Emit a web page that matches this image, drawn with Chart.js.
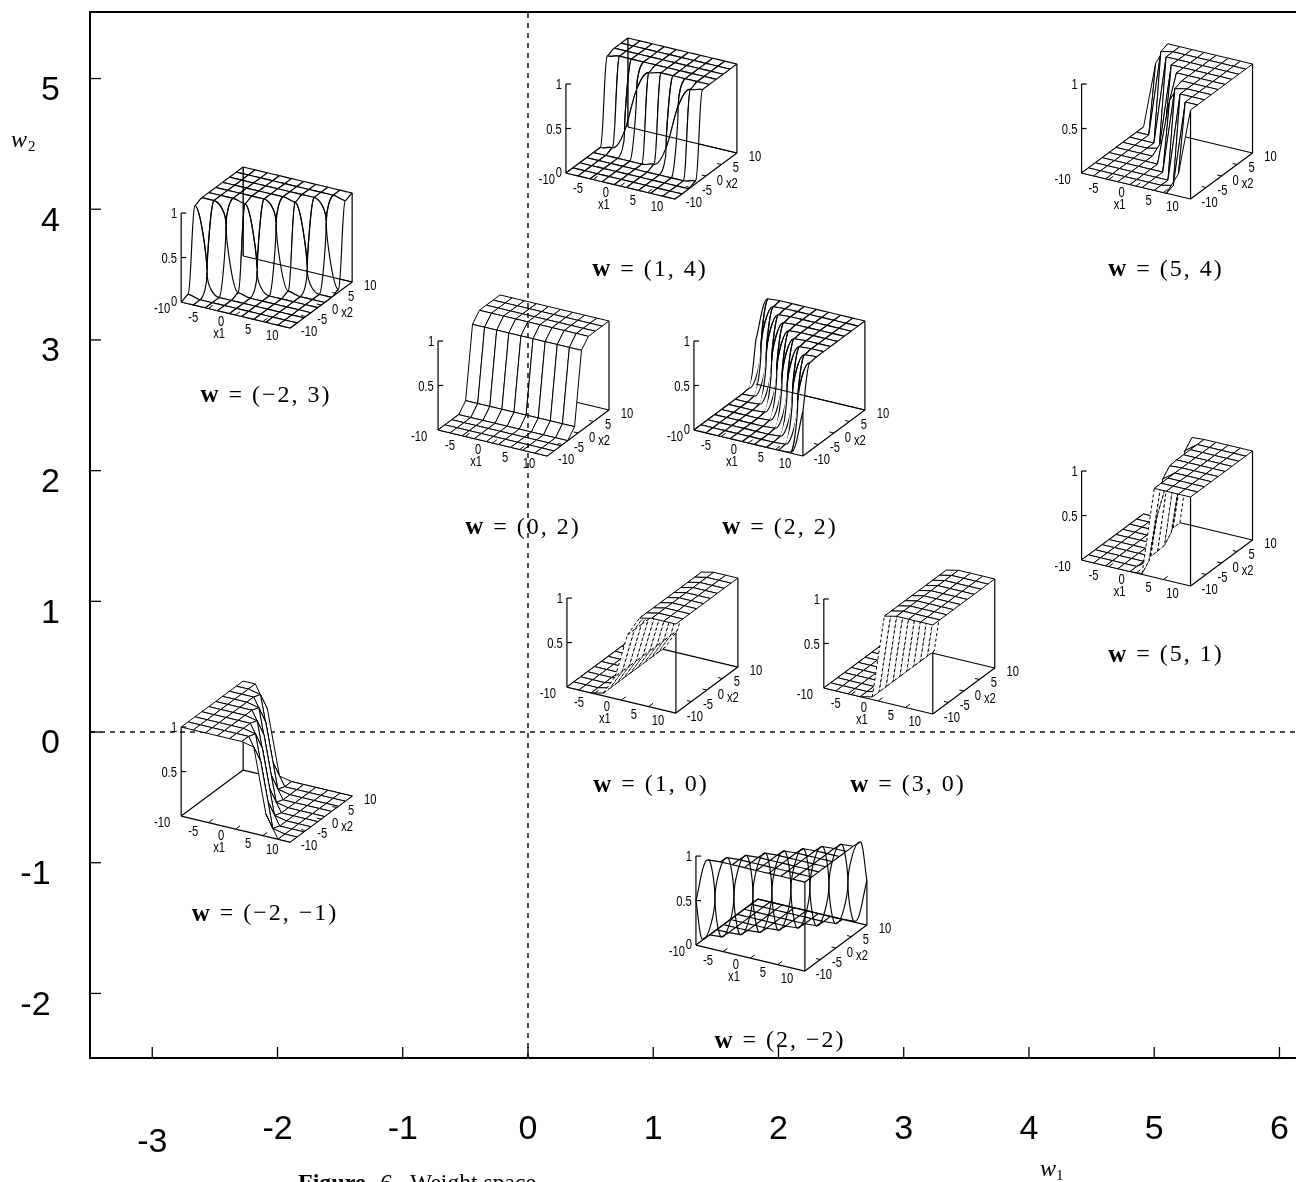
<!DOCTYPE html>
<html>
<head>
<meta charset="utf-8">
<title>Weight space</title>
<style>
html, body { margin: 0; padding: 0; background: #fff; overflow: hidden; }
canvas { display: block; }
</style>
<script src="https://cdn.jsdelivr.net/npm/chart.js@4"></script>
</head>
<body>
<canvas id="myChart" width="1296" height="1182"></canvas>
<script>
// main axes
const xTickValues = [-3, -2, -1, 0, 1, 2, 3, 4, 5, 6]
const yTickValues = [-2, -1, 0, 1, 2, 3, 4, 5]
const xMin = -3.497, xMax = 6.132
const yMin = -2.494, yMax = 5.509

// weight vectors shown in the figure, one surface plot each
const weights = [[1, 4], [5, 4], [-2, 3], [0, 2], [2, 2], [5, 1], [1, 0], [3, 0], [-2, -1], [2, -2]]

// surface heights, read row by row: x2 = -10 .. 10 (rows), x1 = -10 .. 10 (columns)
const surf_1_4 = [
    [0, 0, 0, 0, 0, 0, 0, 0, 0, 0],
    [0, 0, 0, 0, 0, 0, 0, 0, 0, 0],
    [0, 0, 0, 0, 0, 0, 0, 0, 0, 0],
    [0, 0, 0, 0, 0, 0, 0, 0, 0, .03],
    [0, 0, 0, 0, 0, .03, .25, .75, .97, 1],
    [0, .03, .25, .75, .97, 1, 1, 1, 1, 1],
    [.97, 1, 1, 1, 1, 1, 1, 1, 1, 1],
    [1, 1, 1, 1, 1, 1, 1, 1, 1, 1],
    [1, 1, 1, 1, 1, 1, 1, 1, 1, 1],
    [1, 1, 1, 1, 1, 1, 1, 1, 1, 1]
]
const surf_5_4 = [
    [0, 0, 0, 0, 0, 0, 0, 0, .25, 1],
    [0, 0, 0, 0, 0, 0, 0, .03, 1, 1],
    [0, 0, 0, 0, 0, 0, 0, 1, 1, 1],
    [0, 0, 0, 0, 0, 0, .97, 1, 1, 1],
    [0, 0, 0, 0, 0, .75, 1, 1, 1, 1],
    [0, 0, 0, 0, .25, 1, 1, 1, 1, 1],
    [0, 0, 0, .03, 1, 1, 1, 1, 1, 1],
    [0, 0, 0, 1, 1, 1, 1, 1, 1, 1],
    [0, 0, .97, 1, 1, 1, 1, 1, 1, 1],
    [0, .75, 1, 1, 1, 1, 1, 1, 1, 1]
]
const surf_m2_3 = [
    [0, 0, 0, 0, 0, 0, 0, 0, 0, 0],
    [.03, 0, 0, 0, 0, 0, 0, 0, 0, 0],
    [.97, .25, 0, 0, 0, 0, 0, 0, 0, 0],
    [1, 1, .75, .03, 0, 0, 0, 0, 0, 0],
    [1, 1, 1, .97, .25, 0, 0, 0, 0, 0],
    [1, 1, 1, 1, 1, .75, .03, 0, 0, 0],
    [1, 1, 1, 1, 1, 1, .97, .25, 0, 0],
    [1, 1, 1, 1, 1, 1, 1, 1, .75, .03],
    [1, 1, 1, 1, 1, 1, 1, 1, 1, .97],
    [1, 1, 1, 1, 1, 1, 1, 1, 1, 1]
]
const surf_0_2 = [
    [0, 0, 0, 0, 0, 0, 0, 0, 0, 0],
    [0, 0, 0, 0, 0, 0, 0, 0, 0, 0],
    [0, 0, 0, 0, 0, 0, 0, 0, 0, 0],
    [0, 0, 0, 0, 0, 0, 0, 0, 0, 0],
    [.1, .1, .1, .1, .1, .1, .1, .1, .1, .1],
    [.9, .9, .9, .9, .9, .9, .9, .9, .9, .9],
    [1, 1, 1, 1, 1, 1, 1, 1, 1, 1],
    [1, 1, 1, 1, 1, 1, 1, 1, 1, 1],
    [1, 1, 1, 1, 1, 1, 1, 1, 1, 1],
    [1, 1, 1, 1, 1, 1, 1, 1, 1, 1]
]
const surf_2_2 = [
    [0, 0, 0, 0, 0, 0, 0, 0, .01, .5],
    [0, 0, 0, 0, 0, 0, 0, .01, .5, .99],
    [0, 0, 0, 0, 0, 0, .01, .5, .99, 1],
    [0, 0, 0, 0, 0, .01, .5, .99, 1, 1],
    [0, 0, 0, 0, .01, .5, .99, 1, 1, 1],
    [0, 0, 0, .01, .5, .99, 1, 1, 1, 1],
    [0, 0, .01, .5, .99, 1, 1, 1, 1, 1],
    [0, .01, .5, .99, 1, 1, 1, 1, 1, 1],
    [.01, .5, .99, 1, 1, 1, 1, 1, 1, 1],
    [.5, .99, 1, 1, 1, 1, 1, 1, 1, 1]
]
const surf_5_1 = [
    [0, 0, 0, 0, 0, .01, 1, 1, 1, 1],
    [0, 0, 0, 0, 0, .1, 1, 1, 1, 1],
    [0, 0, 0, 0, 0, .5, 1, 1, 1, 1],
    [0, 0, 0, 0, 0, .9, 1, 1, 1, 1],
    [0, 0, 0, 0, 0, .99, 1, 1, 1, 1],
    [0, 0, 0, 0, .01, 1, 1, 1, 1, 1],
    [0, 0, 0, 0, .1, 1, 1, 1, 1, 1],
    [0, 0, 0, 0, .5, 1, 1, 1, 1, 1],
    [0, 0, 0, 0, .9, 1, 1, 1, 1, 1],
    [0, 0, 0, 0, .99, 1, 1, 1, 1, 1]
]
const row_1_0 = [0, 0, 0, .03, .25, .75, .97, 1, 1, 1]
const surf_1_0 = [row_1_0, row_1_0, row_1_0, row_1_0, row_1_0, row_1_0, row_1_0, row_1_0, row_1_0, row_1_0]
const row_3_0 = [0, 0, 0, 0, .03, .97, 1, 1, 1, 1]
const surf_3_0 = [row_3_0, row_3_0, row_3_0, row_3_0, row_3_0, row_3_0, row_3_0, row_3_0, row_3_0, row_3_0]
const surf_m2_m1 = [
    [1, 1, 1, 1, 1, 1, .97, .25, 0, 0],
    [1, 1, 1, 1, 1, 1, .75, .03, 0, 0],
    [1, 1, 1, 1, 1, .97, .25, 0, 0, 0],
    [1, 1, 1, 1, 1, .75, .03, 0, 0, 0],
    [1, 1, 1, 1, .97, .25, 0, 0, 0, 0],
    [1, 1, 1, 1, .75, .03, 0, 0, 0, 0],
    [1, 1, 1, .97, .25, 0, 0, 0, 0, 0],
    [1, 1, 1, .75, .03, 0, 0, 0, 0, 0],
    [1, 1, .97, .25, 0, 0, 0, 0, 0, 0],
    [1, 1, .75, .03, 0, 0, 0, 0, 0, 0]
]
const surf_2_m2 = [
    [.5, .99, 1, 1, 1, 1, 1, 1, 1, 1],
    [.01, .5, .99, 1, 1, 1, 1, 1, 1, 1],
    [0, .01, .5, .99, 1, 1, 1, 1, 1, 1],
    [0, 0, .01, .5, .99, 1, 1, 1, 1, 1],
    [0, 0, 0, .01, .5, .99, 1, 1, 1, 1],
    [0, 0, 0, 0, .01, .5, .99, 1, 1, 1],
    [0, 0, 0, 0, 0, .01, .5, .99, 1, 1],
    [0, 0, 0, 0, 0, 0, .01, .5, .99, 1],
    [0, 0, 0, 0, 0, 0, 0, .01, .5, .99],
    [0, 0, 0, 0, 0, 0, 0, 0, .01, .5]
]
const surfaces = [surf_1_4, surf_5_4, surf_m2_3, surf_0_2, surf_2_2, surf_5_1, surf_1_0, surf_3_0, surf_m2_m1, surf_2_m2]

// where each little plot sits on the weight plane: its (x1=-10, x2=-10, z=0) corner
const cornerW1 = [0.303, 4.42, -2.769, -0.718, 1.325, 4.42, 0.311, 2.362, -2.769, 1.341]
const cornerW2 = [4.277, 4.277, 3.29, 2.311, 2.311, 1.316, 0.344, 0.337, -0.643, -1.63]
// caption centre of each "w = (..)" label, on the same plane
const captionW1 = [0.974, 5.094, -2.092, -0.04, 2.012, 5.094, 0.982, 3.034, -2.1, 2.012]
const captionW2 = [3.536, 3.536, 2.571, 1.561, 1.561, 0.589, -0.406, -0.406, -1.393, -2.365]

// how each plot was drawn in the original
const smoothWires = [true, false, true, false, true, false, false, false, false, true]
const dashedUnder = [false, false, false, false, false, true, true, true, false, false]
const hideBehind = [true, true, true, true, true, true, true, true, true, false]
const backLineOnTop = [true, false, true, false, true, false, false, false, false, false]
const backPostOnTop = [true, false, true, false, false, false, false, false, false, false]
const showZeroLabel = [true, false, true, false, true, false, false, false, false, true]

const surfaceTicks = [-5, 0, 5]
const zTicks = [0.5, 1]

// axis vectors of a little plot, in weight units
const e1 = [0.87, -0.199], e2 = [0.495, 0.352], ez = [0, 0.681]
const WIRES = 10

var stack = []

function line(points, extra) {
    stack.push(Object.assign({
        data: points,
        showLine: true,
        borderColor: '#000',
        borderWidth: 1,
        fill: false
    }, extra || {}))
}

function project(p, u, v, z) {
    return {
        x: cornerW1[p] + u * e1[0] + v * e2[0] + z * ez[0],
        y: cornerW2[p] + u * e1[1] + v * e2[1] + z * ez[1]
    }
}

function wirePoint(p, i, j) {
    return project(p, i / (WIRES - 1), j / (WIRES - 1), surfaces[p][j][i])
}

function area(pts) {
    var a = 0
    for (var k = 0; k < pts.length; k++) {
        var q = pts[(k + 1) % pts.length]
        a += pts[k].x * q.y - q.x * pts[k].y
    }
    return a / 2
}

// one cell of a wire, with its neighbours so the curve keeps its tangent
function smoothEdge(p, di, dj, i, j) {
    var pts = []
    var heights = []
    var mid = 0
    for (var k = -1; k <= 2; k++) {
        var a = i + k * di, b = j + k * dj
        if (a < 0 || b < 0 || a >= WIRES || b >= WIRES) continue
        if (k == 0) mid = pts.length
        pts.push(wirePoint(p, a, b))
        heights.push(surfaces[p][b][a])
    }
    var axis = di ? e1 : e2
    line(pts, {
        tension: 0.28,
        borderWidth: 1.15,
        wireHeights: heights,
        wireStep: [axis[0] / (WIRES - 1), axis[1] / (WIRES - 1)],
        segment: { borderColor: function (c) { return c.p0DataIndex == mid ? '#000' : 'rgba(0,0,0,0)' } }
    })
}

function addSurface(p) {
    // far cells first, the white fills hide what is behind them
    for (var j = WIRES - 2; j >= 0; j--) {
        for (var i = 0; i < WIRES - 1; i++) {
            var quad = [wirePoint(p, i, j), wirePoint(p, i + 1, j), wirePoint(p, i + 1, j + 1), wirePoint(p, i, j + 1)]
            var dash = dashedUnder[p] && area(quad) < 0 ? [3, 2.5] : []
            var closed = quad.concat([quad[0]])
            if (smoothWires[p]) {
                if (hideBehind[p]) line(closed, { fill: 'shape', backgroundColor: '#fff', borderWidth: 0 })
                // a cell with no fill does not cover its neighbour's wire, so draw shared wires once
                smoothEdge(p, 1, 0, i, j)
                smoothEdge(p, 0, 1, i + 1, j)
                if (hideBehind[p] || j == WIRES - 2) smoothEdge(p, 1, 0, i, j + 1)
                if (hideBehind[p] || i == 0) smoothEdge(p, 0, 1, i, j)
            } else {
                line(closed, { fill: 'shape', backgroundColor: '#fff', borderDash: dash })
            }
        }
    }
}

function addPlot(p) {
    var z = surfaces[p]
    var last = WIRES - 1
    var box = { borderWidth: 1.2 }
    // floor and posts behind the surface
    line([project(p, 0, 0, 0), project(p, 1, 0, 0), project(p, 1, 1, 0), project(p, 0, 1, 0), project(p, 0, 0, 0)], box)
    line([project(p, 1, 0, 0), project(p, 1, 0, z[0][last])], box)
    line([project(p, 1, 1, 0), project(p, 1, 1, z[last][last])], box)
    line([project(p, 0, 1, 0), project(p, 0, 1, z[last][0])], box)

    addSurface(p)

    // left post with its ticks, tick marks on the floor
    line([project(p, 0, 0, 0), project(p, 0, 0, 1)], box)
    zTicks.forEach(function (t) {
        var a = project(p, 0, 0, t)
        line([a, { x: a.x + 0.04, y: a.y }], box)
    })
    surfaceTicks.forEach(function (t) {
        var u = (t + 10) / 20
        line([project(p, u, 0, 0), project(p, u, 0.07, 0)])
        line([project(p, 1, u, 0), project(p, 0.96, u, 0)])
    })
    if (backLineOnTop[p]) line([project(p, 0, 1, 0), project(p, 1, 1, 0)], box)
    if (backPostOnTop[p]) line([project(p, 0, 1, 0), project(p, 0, 1, 1)], { borderWidth: 1.4 })
}

// dashed y = 0 goes under the plots, dashed x = 0 over them
line([{ x: xMin, y: 0 }, { x: xMax, y: 0 }], { borderDash: [5, 5], borderWidth: 1.4 })
weights.forEach(function (w, p) { addPlot(p) })
line([{ x: 0, y: yMin }, { x: 0, y: yMax }], { borderDash: [5, 5], borderWidth: 1.4 })

// top spine, and the tick marks that point into the plot
line([{ x: xMin, y: yMax }, { x: xMax, y: yMax }], { borderWidth: 2, clip: false })
xTickValues.forEach(function (v) { line([{ x: v, y: yMin }, { x: v, y: yMin + 0.084 }], { borderWidth: 1.3 }) })
yTickValues.forEach(function (v) { line([{ x: xMin, y: v }, { x: xMin + 0.088, y: v }], { borderWidth: 1.3 }) })

// chart.js paints dataset 0 last
stack.reverse()

// wires run flat on the plateaus and near vertical on the walls
const wireShape = {
    id: 'wireShape',
    beforeDatasetsDraw: function (chart) {
        var sx = chart.scales.x, sy = chart.scales.y
        var flat = function (z) { return z < 0.04 || z > 0.96 }
        chart.data.datasets.forEach(function (ds, d) {
            if (!ds.wireHeights) return
            var wire = chart.getDatasetMeta(d).dataset
            wire.updateControlPoints(chart.chartArea)
            var fx = sx.getPixelForValue(ds.wireStep[0]) - sx.getPixelForValue(0)
            var fy = sy.getPixelForValue(ds.wireStep[1]) - sy.getPixelForValue(0)
            var zs = ds.wireHeights
            wire.points.forEach(function (pt, k) {
                var before = k > 0 ? zs[k - 1] : zs[k]
                var after = k < zs.length - 1 ? zs[k + 1] : zs[k]
                if (flat(zs[k])) {
                    pt.cp1x = pt.x - 0.45 * fx
                    pt.cp1y = pt.y - 0.45 * fy
                    pt.cp2x = pt.x + 0.45 * fx
                    pt.cp2y = pt.y + 0.45 * fy
                } else if (flat(before) && flat(after)) {
                    var h = (after - before) * 14
                    pt.cp1x = pt.x
                    pt.cp1y = pt.y + h
                    pt.cp2x = pt.x
                    pt.cp2y = pt.y - h
                }
            })
        })
    }
}

function wCaption(w) {
    var fmt = function (n) { return n < 0 ? '\u2212' + (-n) : '' + n }
    return '= (' + fmt(w[0]) + ', ' + fmt(w[1]) + ')'
}

function narrowText(ctx, text, x, y) {
    ctx.save()
    ctx.translate(x, y)
    ctx.scale(0.8, 1)
    ctx.fillText(text, 0, 0)
    ctx.restore()
}

// offsets (px) of the small tick labels from each plot's corner
const smallLabels = [
    ['-10', -19, 7], ['0.5', -12, -43], ['1', -7, -88],
    ['-5', 12, 16], ['0', 40, 20], ['x1', 38, 32], ['5', 67, 28], ['10', 91, 34],
    ['-10', 128, 30], ['-5', 141, 18], ['0', 154, 8], ['x2', 166, 11], ['5', 170, -5], ['10', 189, -16]
]

const figureText = {
    id: 'figureText',
    afterDraw: function (chart) {
        var ctx = chart.ctx
        var sx = chart.scales.x, sy = chart.scales.y
        ctx.save()
        ctx.fillStyle = '#000'
        ctx.textBaseline = 'middle'
        ctx.textAlign = 'center'

        // tick labels of the small plots
        ctx.font = '14px "Liberation Sans"'
        weights.forEach(function (w, p) {
            var cx = sx.getPixelForValue(cornerW1[p]), cy = sy.getPixelForValue(cornerW2[p])
            smallLabels.forEach(function (l) { narrowText(ctx, l[0], cx + l[1], cy + l[2]) })
            if (showZeroLabel[p]) narrowText(ctx, '0', cx - 7, cy)
        })

        // w = (a, b) captions
        weights.forEach(function (w, p) {
            var rest = wCaption(w)
            ctx.font = 'bold 25px "Liberation Serif"'
            var wWidth = ctx.measureText('w').width
            ctx.font = '24px "Liberation Serif"'
            ctx.letterSpacing = '2px'
            var restWidth = ctx.measureText(rest).width
            var gap = 10
            var left = sx.getPixelForValue(captionW1[p]) - (wWidth + gap + restWidth) / 2
            var y = sy.getPixelForValue(captionW2[p])
            ctx.textAlign = 'left'
            ctx.fillText(rest, left + wWidth + gap, y)
            ctx.letterSpacing = '0px'
            ctx.font = 'bold 25px "Liberation Serif"'
            ctx.fillText('w', left, y)
            ctx.textAlign = 'center'
        })

        // the -3 sits lower than the other x labels in the original
        ctx.font = '34px "Liberation Sans"'
        ctx.fillText('-3', sx.getPixelForValue(-3), 1143)

        // axis names
        ctx.textAlign = 'left'
        ctx.font = 'italic 24px "Liberation Serif"'
        ctx.fillText('w', 11, 141)
        ctx.fillText('w', 1040, 1170)
        ctx.font = '15px "Liberation Serif"'
        ctx.fillText('2', 28, 147)
        ctx.fillText('1', 1056, 1176)

        // caption is cut by the bottom of the page
        ctx.textBaseline = 'alphabetic'
        ctx.font = 'bold 24px "Liberation Serif"'
        ctx.fillText('Figure', 298, 1190)
        ctx.font = 'italic 23px "Liberation Serif"'
        ctx.fillText('6.', 380, 1190)
        ctx.font = '23.6px "Liberation Serif"'
        ctx.fillText('Weight space', 410, 1190)
        ctx.restore()
    }
}

var ctx = document.getElementById('myChart').getContext('2d')
var chart = new Chart(ctx, {
    type: 'scatter',
    data: { datasets: stack },
    plugins: [wireShape, figureText],
    options: {
        responsive: false,
        animation: false,
        parsing: false,
        normalized: true,
        events: [],
        layout: { padding: { top: 12, right: 0, left: 0, bottom: 0 } },
        elements: {
            point: { radius: 0 },
            line: { borderJoinStyle: 'round' }
        },
        plugins: {
            legend: { display: false },
            tooltip: { enabled: false },
            filler: { drawTime: 'beforeDatasetDraw' }
        },
        scales: {
            x: {
                type: 'linear',
                min: xMin,
                max: xMax,
                afterBuildTicks: function (axis) { axis.ticks = xTickValues.map(function (v) { return { value: v } }) },
                afterFit: function (axis) {
                    axis.height = 124
                    axis.paddingLeft = 0
                    axis.paddingRight = 0
                },
                grid: { display: false, drawTicks: false },
                border: { display: true, color: '#000', width: 2 },
                ticks: {
                    color: '#000',
                    font: { family: '"Liberation Sans"', size: 34 },
                    padding: 51,
                    maxRotation: 0,
                    autoSkip: false,
                    callback: function (v) { return v == -3 ? '' : '' + v }
                }
            },
            y: {
                type: 'linear',
                min: yMin,
                max: yMax,
                afterBuildTicks: function (axis) { axis.ticks = yTickValues.map(function (v) { return { value: v } }) },
                afterFit: function (axis) {
                    axis.width = 90
                    axis.paddingTop = 0
                    axis.paddingBottom = 0
                },
                grid: { display: false, drawTicks: false },
                border: { display: true, color: '#000', width: 2 },
                ticks: {
                    color: '#000',
                    font: { family: '"Liberation Sans"', size: 34 },
                    padding: 30,
                    labelOffset: 12,
                    autoSkip: false,
                    callback: function (v) { return v < 0 ? v + ' ' : '' + v }
                }
            }
        }
    }
})
</script>
</body>
</html>
